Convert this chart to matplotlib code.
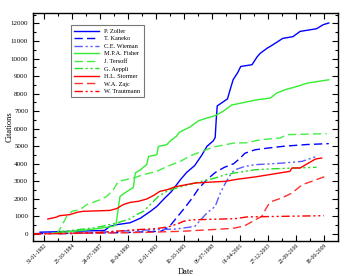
#!/usr/bin/env python3
"""Citations over time for a handful of physicists."""

import datetime as dt
import matplotlib
matplotlib.use("Agg")
import matplotlib.pyplot as plt


def dec_year(s):
    """Turn a dd-mm-yyyy string into a decimal year."""
    d = dt.datetime.strptime(s, "%d-%m-%Y")
    start = dt.datetime(d.year, 1, 1)
    end = dt.datetime(d.year + 1, 1, 1)
    return d.year + (d - start).days / (end - start).days


# tick labels on the date axis
date_ticks = ["31-01-1982", "25-10-1984", "24-07-1987", "19-04-1990", "13-01-1993",
              "10-10-1995", "06-07-1998", "01-04-2001", "27-12-2003", "22-09-2006",
              "18-06-2009"]

# series: decimal year, citations
zoller_t = [1981.7, 1985.0, 1988.0, 1988.5, 1989.2, 1990.5, 1991.5, 1992.5, 1993.1, 1993.8,
            1994.5, 1995.4, 1996.0, 1996.8, 1997.5, 1998.0, 1998.6, 1998.8, 1998.9, 1999.0,
            1999.5, 2000.0, 2000.2, 2000.55, 2001.0, 2001.3, 2002.4, 2002.9, 2003.2, 2003.9,
            2004.2, 2005.4, 2006.4, 2007.1, 2008.7, 2009.35, 2009.9]
zoller_c = [100, 150, 200, 430, 530, 640, 900, 1300, 1570, 2000,
            2400, 3090, 3500, 3900, 4500, 5000, 5300, 5500, 6500, 7300,
            7500, 7700, 8100, 8790, 9200, 9550, 9650, 10100, 10300, 10600,
            10700, 11150, 11250, 11550, 11700, 11930, 12030]

kaneko_t = [1981.2, 1985.0, 1990.0, 1993.5, 1994.3, 1995.0, 1995.7, 1996.5, 1997.2, 1998.0,
            1998.8, 1999.7, 2000.6, 2001.2, 2001.7, 2002.7, 2004.0, 2005.5, 2007.8, 2009.9]
kaneko_c = [20, 40, 80, 150, 400, 900, 1400, 2000, 2600, 3100,
            3500, 3800, 4000, 4300, 4600, 4800, 4900, 5000, 5100, 5150]

wieman_t = [1983.5, 1986.0, 1989.0, 1992.0, 1995.0, 1996.8, 1998.0, 1998.8, 1999.3, 1999.8,
            2000.4, 2000.75, 2001.7, 2002.7, 2004.3, 2005.6, 2007.3, 2008.7]
wieman_c = [0, 50, 150, 220, 280, 430, 1200, 1570, 2330, 2900,
            3480, 3660, 3850, 3950, 4000, 4050, 4140, 4420]

fisher_t = [1982.9, 1985.0, 1987.0, 1988.8, 1989.1, 1989.5, 1990.0, 1990.8, 1991.0, 1991.5,
            1992.1, 1992.3, 1993.1, 1993.25, 1994.07, 1994.4, 1995.0, 1995.3, 1996.35, 1997.16,
            1998.0, 1998.8, 1999.6, 2000.4, 2002.9, 2004.2, 2004.8, 2005.6, 2006.8, 2007.8,
            2009.9]
fisher_c = [50, 150, 280, 430, 500, 2140, 2350, 2650, 3480, 3660,
            3950, 4420, 4520, 4990, 5090, 5300, 5560, 5800, 6100, 6450,
            6610, 6750, 7000, 7350, 7650, 7750, 8030, 8220, 8410, 8600,
            8790]

tersoff_t = [1983.3, 1983.6, 1984.3, 1984.8, 1985.6, 1986.25, 1987.55, 1988.2, 1988.85, 1989.35,
             1990.8, 1991.8, 1993.1, 1994.1, 1995.4, 1996.35, 1998.6, 2000.6, 2001.9, 2003.2,
             2005.15, 2005.8, 2009.7]
tersoff_c = [0, 250, 1000, 1290, 1390, 1670, 1950, 2140, 2520, 3000,
             3190, 3380, 3570, 3850, 4140, 4450, 4950, 5180, 5200, 5370,
             5470, 5660, 5720]

aeppli_t = [1983.3, 1983.9, 1986.9, 1987.5, 1989.2, 1990.5, 1991.1, 1991.8, 1992.45, 1993.25,
            1994.07, 1994.7, 1995.4, 1996.8, 1998.8, 1999.8, 2000.75, 2001.7, 2002.7, 2004.7,
            2008.7]
aeppli_c = [0, 150, 340, 400, 630, 860, 1100, 1290, 1670, 2140,
            2430, 2560, 2680, 2900, 3190, 3380, 3480, 3570, 3660, 3720,
            3800]

stormer_t = [1982.45, 1983.3, 1983.6, 1984.6, 1985.3, 1985.9, 1988.5, 1989.2, 1989.8, 1990.5,
             1991.3, 1992.1, 1992.8, 1993.4, 1994.1, 1994.9, 1996.8, 1998.5, 1999.8, 2001.1,
             2002.7, 2006.1, 2006.3, 2007.1, 2007.8, 2008.6, 2009.2]
stormer_c = [850, 960, 1040, 1100, 1230, 1290, 1340, 1450, 1670, 1800,
             1860, 1990, 2200, 2430, 2520, 2690, 2900, 2960, 3000, 3130,
             3250, 3570, 3760, 3760, 4000, 4270, 4330]

zajc_t = [1981.0, 1984.0, 1988.0, 1992.0, 1995.5, 1998.6, 2000.0, 2000.75, 2001.7, 2002.7,
          2003.35, 2003.7, 2004.0, 2004.35, 2005.3, 2006.3, 2007.3, 2008.25, 2009.55]
zajc_c = [0, 20, 50, 90, 150, 250, 300, 340, 470, 800,
          1000, 1380, 1670, 1860, 2050, 2330, 2810, 3000, 3280]

trautmann_t = [1981.0, 1984.0, 1988.0, 1991.0, 1993.0, 1994.2, 1995.2, 1995.7, 1996.5, 1997.5,
               2000.75, 2001.9, 2005.0, 2009.4]
trautmann_c = [0, 30, 100, 240, 300, 400, 590, 720, 800, 820,
               870, 970, 1000, 1040]

dashdot = (0, (6, 2, 1.5, 2, 1.5, 2))

plt.rcParams['font.family'] = ['Liberation Serif', 'DejaVu Serif']

fig = plt.figure(figsize=(3.57, 2.76), dpi=100)
ax = fig.add_axes([0.0924, 0.127, 0.8544, 0.826])

ax.plot(zoller_t, zoller_c, color="#0000ff", lw=1.0, label="P. Zoller")
ax.plot(kaneko_t, kaneko_c, color="#0000ff", lw=1.0, ls=(0, (6, 3)), label="T. Kaneko")
ax.plot(wieman_t, wieman_c, color="#5a5aff", lw=1.0, ls=dashdot, label="C.E. Wieman")
ax.plot(fisher_t, fisher_c, color="#33ee33", lw=1.0, label="M.P.A. Fisher")
ax.plot(tersoff_t, tersoff_c, color="#44ee44", lw=1.0, ls=(0, (6, 3)), label="J. Tersoff")
ax.plot(aeppli_t, aeppli_c, color="#22e022", lw=1.0, ls=dashdot, label="G. Aeppli")
ax.plot(stormer_t, stormer_c, color="#ff0000", lw=1.0, label="H.L. Stormer")
ax.plot(zajc_t, zajc_c, color="#ff3030", lw=1.0, ls=(0, (6, 3)), label="W.A. Zajc")
ax.plot(trautmann_t, trautmann_c, color="#ff0000", lw=1.0, ls=dashdot, label="W. Trautmann")

ax.set_xlim(1981.0, 2010.8)
ax.set_ylim(-400, 12600)

major = [dec_year(s) for s in date_ticks]
minor = [(a + b) / 2 for a, b in zip(major[:-1], major[1:])]
ax.set_xticks(major)
ax.set_xticklabels(date_ticks, rotation=45, ha="right", rotation_mode="anchor", fontsize=4.0)
ax.set_xticks(minor, minor=True)
ax.set_yticks(range(0, 12001, 1000))
ax.set_yticks(range(500, 12600, 1000), minor=True)
ax.tick_params(axis="y", labelsize=5)
ax.tick_params(axis="x", pad=1.5)
ax.tick_params(which="both", direction="in", top=True, right=True, width=0.8)
ax.tick_params(which="major", length=4)
ax.tick_params(which="minor", length=2.2)
for sp in ax.spines.values():
    sp.set_linewidth(1.0)

ax.set_xlabel("Date", fontsize=6, va="center")
ax.xaxis.set_label_coords(0.5, -0.135)
ax.set_ylabel("Citations", fontsize=6, va="center")
ax.yaxis.set_label_coords(-0.075, 0.5)

leg = ax.legend(loc="upper left", bbox_to_anchor=(0.115, 0.96), fontsize=4.5,
                frameon=True, fancybox=False, handlelength=4, handletextpad=0.8,
                labelspacing=0.35, borderpad=0.5)
leg.get_frame().set_edgecolor("#555555")
leg.get_frame().set_linewidth(0.8)

fig.savefig("out.png", dpi=100)
